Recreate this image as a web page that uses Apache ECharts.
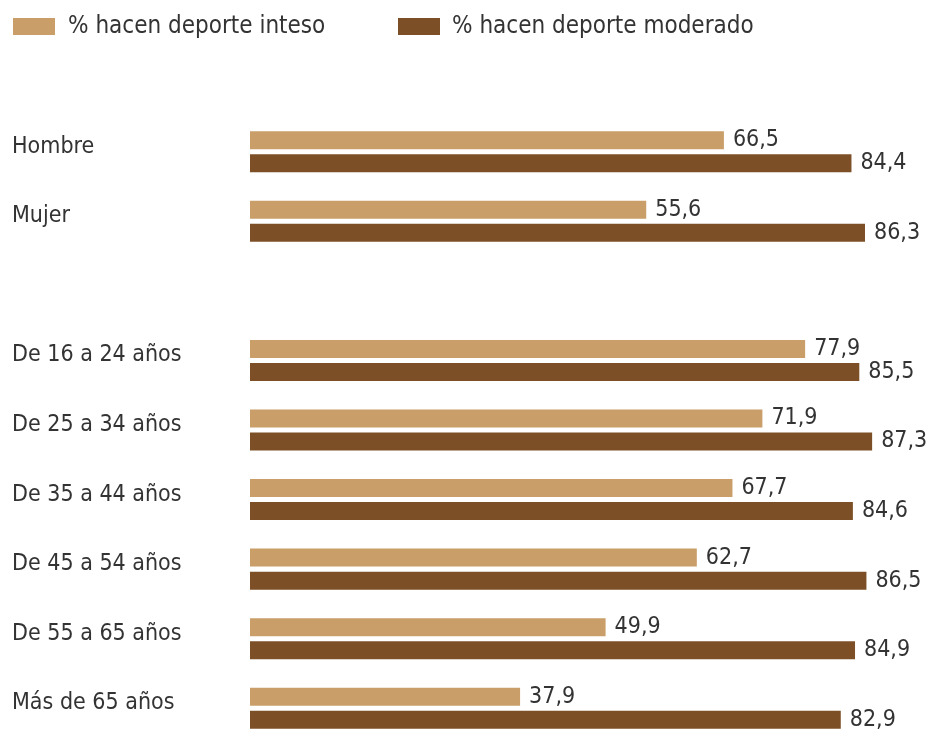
<!DOCTYPE html>
<html>
<head>
<meta charset="utf-8">
<script src="https://cdn.jsdelivr.net/npm/echarts@6/dist/echarts.min.js"></script>
<style>
html,body{margin:0;padding:0;background:#fff;}
#chart{width:926px;height:733px;}
</style>
</head>
<body>
<div id="chart"></div>
<script>
const categories = ['Hombre', 'Mujer', '', 'De 16 a 24 años', 'De 25 a 34 años', 'De 35 a 44 años', 'De 45 a 54 años', 'De 55 a 65 años', 'Más de 65 años'];
const seriesNames = ['% hacen deporte inteso', '% hacen deporte moderado'];
const intenso = [66.5, 55.6, '-', 77.9, 71.9, 67.7, 62.7, 49.9, 37.9];
const moderado = [84.4, 86.3, '-', 85.5, 87.3, 84.6, 86.5, 84.9, 82.9];

const FONT = '"Liberation Sans Narrow", "DejaVu Sans Condensed", "Liberation Sans", sans-serif';
const TXT = '#333333';
const fmt = p => String(p.value).replace('.', ',');

const chart = echarts.init(document.getElementById('chart'), null, {renderer: 'canvas'});
chart.setOption({
  animation: false,
  backgroundColor: '#ffffff',
  legend: [
    {
      data: [seriesNames[0]], left: 13, top: 12, padding: 0, itemWidth: 42, itemHeight: 17,
      icon: 'rect',
      textStyle: {fontFamily: FONT, fontSize: 24, color: TXT, lineHeight: 29, padding: [0, 0, 0, 8]}
    },
    {
      data: [seriesNames[1]], left: 398, top: 12, padding: 0, itemWidth: 42, itemHeight: 17,
      icon: 'rect',
      textStyle: {fontFamily: FONT, fontSize: 24, color: TXT, lineHeight: 29, padding: [0, 0, 0, 7]}
    }
  ],
  grid: {left: 250, top: 117, width: 677, height: 626, containLabel: false, outerBoundsMode: 'none'},
  xAxis: {
    type: 'value', min: 0, max: 95,
    show: false
  },
  yAxis: {
    type: 'category', data: categories, inverse: true,
    axisLine: {show: false}, axisTick: {show: false}, splitLine: {show: false},
    axisLabel: {
      align: 'left', margin: 238, verticalAlign: 'bottom', lineHeight: 10,
      fontFamily: FONT, fontSize: 23, color: TXT
    }
  },
  series: [
    {
      name: seriesNames[0], type: 'bar', data: intenso,
      barWidth: 18, barGap: '28%',
      itemStyle: {color: '#C99E68'},
      label: {show: true, position: 'right', distance: 9, formatter: fmt,
        fontFamily: FONT, fontSize: 23, color: TXT}
    },
    {
      name: seriesNames[1], type: 'bar', data: moderado,
      barWidth: 18, barGap: '28%',
      itemStyle: {color: '#7C4F26'},
      label: {show: true, position: 'right', distance: 9, formatter: fmt,
        fontFamily: FONT, fontSize: 23, color: TXT}
    }
  ]
});
</script>
</body>
</html>
